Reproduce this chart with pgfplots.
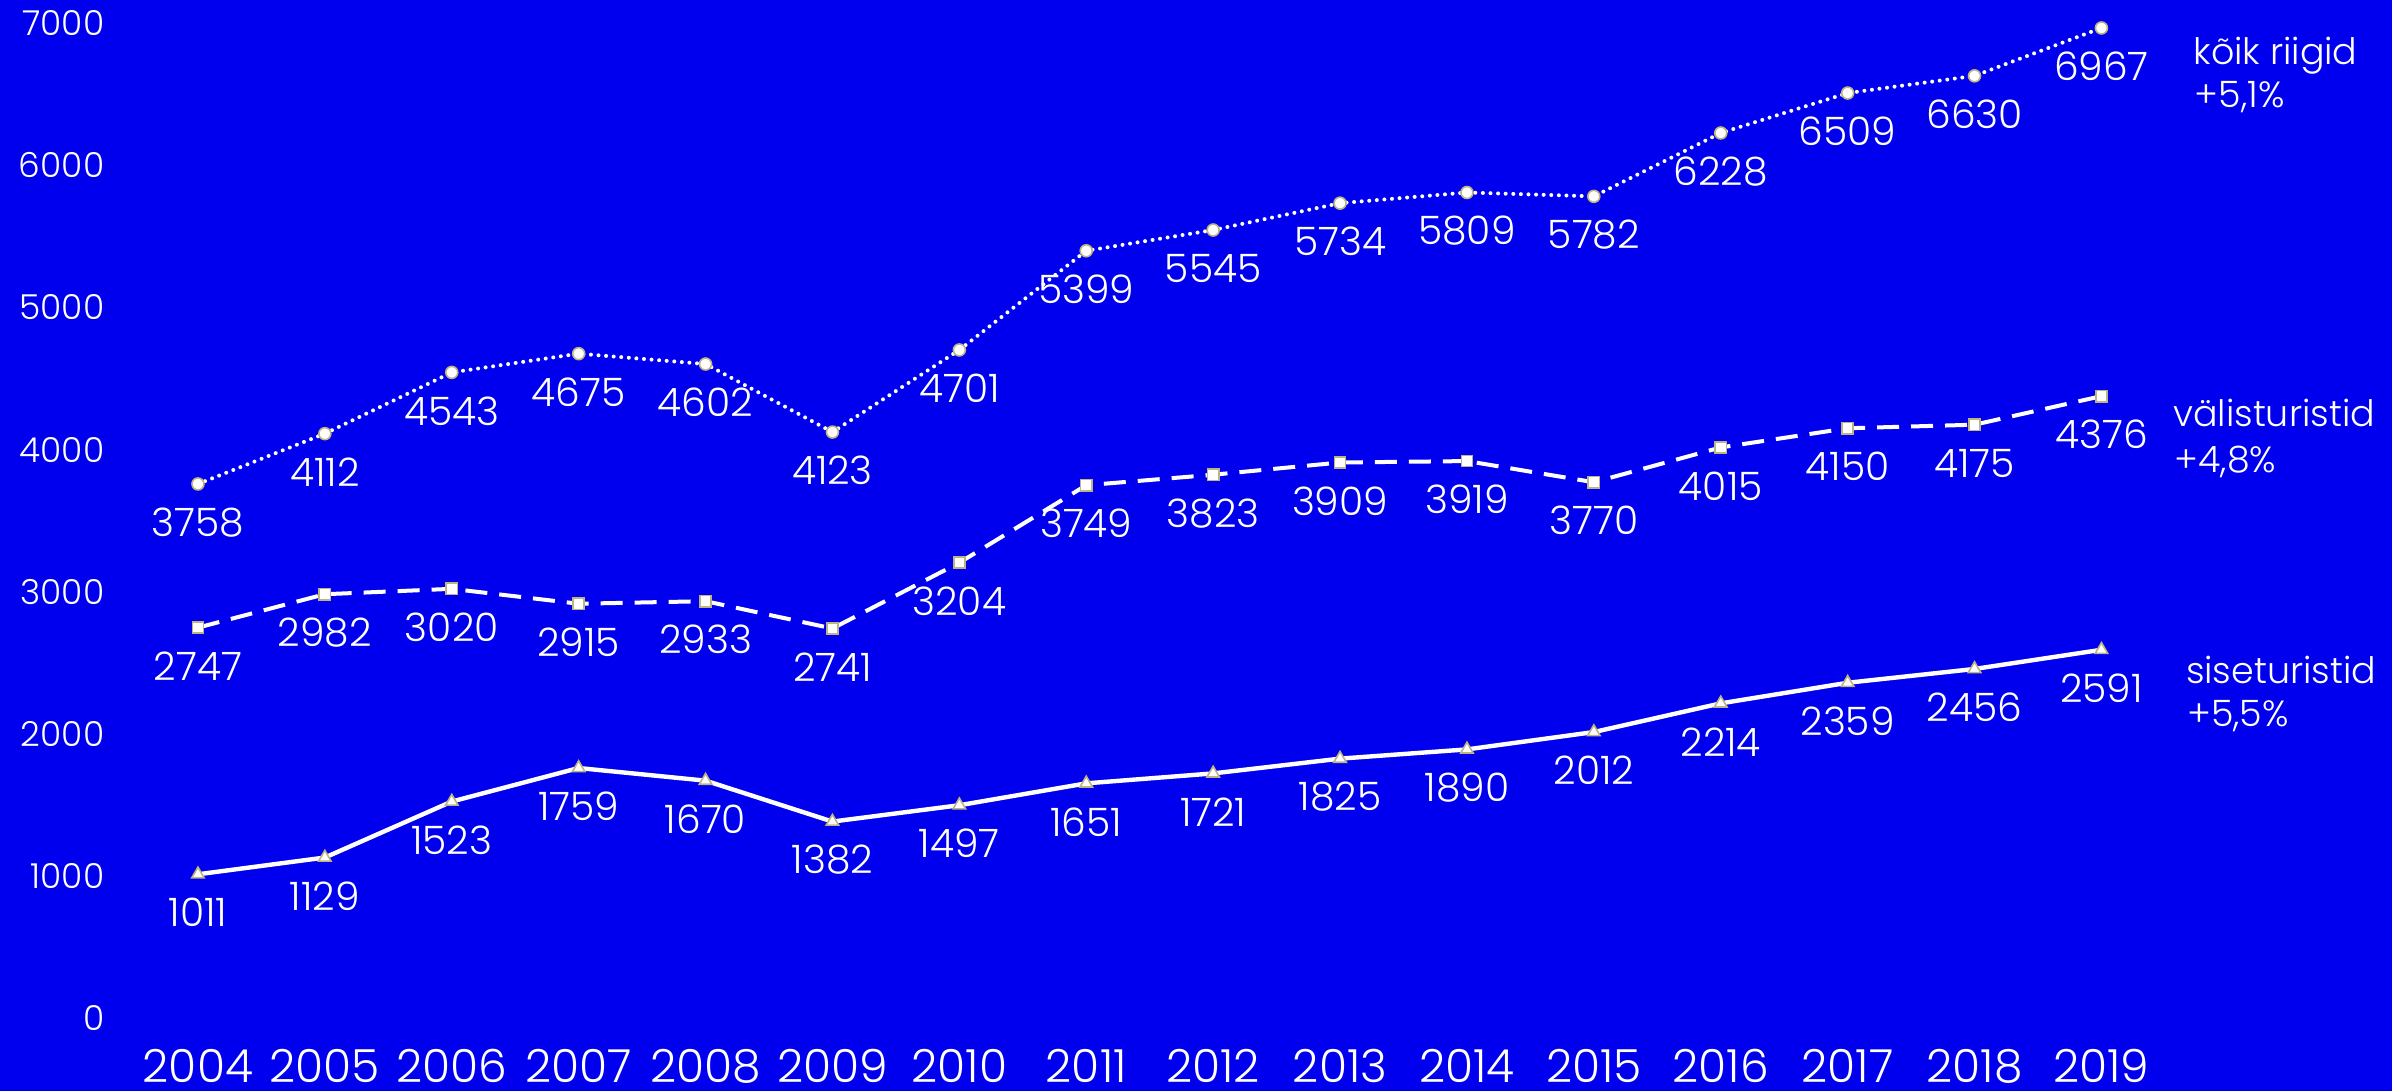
\documentclass[border=0pt]{standalone}
\usepackage{fontspec}
\setmainfont{Poppins Light}
\usepackage{pgfplots}
\pgfplotsset{compat=1.18}
\definecolor{bg}{RGB}{0,0,238}
\definecolor{mk}{RGB}{190,180,130}
\begin{document}
\begin{tikzpicture}
\begin{axis}[
 scale only axis, width=598pt, height=272.75pt,
 xmin=2002.44, xmax=2021.29, ymin=-514, ymax=7164,
 axis background/.style={fill=bg},
 axis line style={draw=none},
 tick style={draw=none}, major tick length=0pt,
 xtick={2004,2005,...,2019}, ytick={0,1000,...,7000},
 /pgf/number format/1000 sep={},
 /pgf/number format/assume math mode=true,
 xticklabel style={font=\fontsize{11.4}{13}\selectfont, text=white, anchor=center, inner sep=0pt, yshift=6.2pt},
 yticklabel style={font=\fontsize{8.6}{10}\selectfont, text=white, anchor=east, inner sep=0pt, xshift=26.25pt},
 clip=false,
 nodes near coords,
 every node near coord/.append style={font=\fontsize{9.8}{11}\selectfont, text=white, anchor=center, yshift=-9.6pt},
]
\addplot[white, line width=1pt, dash pattern=on 0pt off 1.9pt, line cap=round,
  mark=*, mark size=1.5pt, mark options={solid, fill=white, draw=mk, line width=0.4pt}]
 coordinates {(2004,3758)(2005,4112)(2006,4543)(2007,4675)(2008,4602)(2009,4123)(2010,4701)(2011,5399)(2012,5545)(2013,5734)(2014,5809)(2015,5782)(2016,6228)(2017,6509)(2018,6630)(2019,6967)};
\addplot[white, line width=1pt, dash pattern=on 5.5pt off 3pt,
  mark=square*, mark size=1.4pt, mark options={solid, fill=white, draw=mk, line width=0.4pt}]
 coordinates {(2004,2747)(2005,2982)(2006,3020)(2007,2915)(2008,2933)(2009,2741)(2010,3204)(2011,3749)(2012,3823)(2013,3909)(2014,3919)(2015,3770)(2016,4015)(2017,4150)(2018,4175)(2019,4376)};
\addplot[white, line width=1.1pt,
  mark=triangle*, mark size=1.8pt, mark options={solid, fill=white, draw=mk, line width=0.4pt}]
 coordinates {(2004,1011)(2005,1129)(2006,1523)(2007,1759)(2008,1670)(2009,1382)(2010,1497)(2011,1651)(2012,1721)(2013,1825)(2014,1890)(2015,2012)(2016,2214)(2017,2359)(2018,2456)(2019,2591)};
\begin{scope}[every node/.style={anchor=base west, inner sep=0pt, text=white, font=\fontsize{9.1}{11}\selectfont}]
\node at (axis cs:2019.72,6707) {kõik riigid};
\node at (axis cs:2019.73,6404) {+5,1\%};
\node at (axis cs:2019.56,4159) {välisturistid};
\node at (axis cs:2019.57,3842) {+4,8\%};
\node at (axis cs:2019.66,2357) {siseturistid};
\node at (axis cs:2019.67,2048) {+5,5\%};
\end{scope}
\end{axis}
\pgfresetboundingbox
\useasboundingbox (current axis.south west) rectangle (current axis.north east);
\end{tikzpicture}
\end{document}
